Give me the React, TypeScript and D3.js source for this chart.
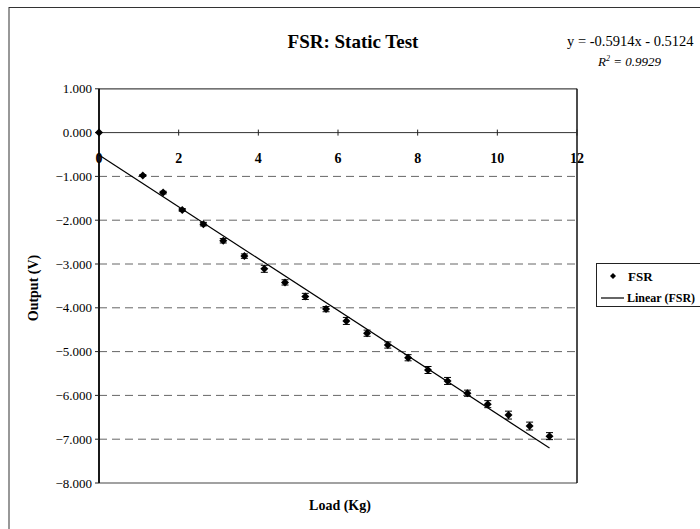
import React from 'react';
import * as d3 from 'd3';

// load (kg) and sensor output (V)
const loads = [0, 1.1, 1.61, 2.09, 2.62, 3.12, 3.65, 4.15, 4.67, 5.18, 5.7, 6.21, 6.73, 7.25, 7.76, 8.26, 8.75, 9.25, 9.76, 10.28, 10.81, 11.31];
const outputs = [0, -0.98, -1.37, -1.765, -2.09, -2.47, -2.82, -3.11, -3.42, -3.74, -4.03, -4.3, -4.58, -4.85, -5.14, -5.42, -5.67, -5.95, -6.2, -6.45, -6.7, -6.93];
const errors = [0, 0.02, 0.03, 0.03, 0.04, 0.05, 0.05, 0.08, 0.06, 0.07, 0.06, 0.08, 0.07, 0.07, 0.07, 0.08, 0.08, 0.07, 0.08, 0.09, 0.09, 0.08];

const xTicks = [0, 2, 4, 6, 8, 10, 12];
const yTicks = [1, 0, -1, -2, -3, -4, -5, -6, -7, -8];

const slope = -0.5914;
const intercept = -0.5124;

const font = '"Liberation Serif", "Times New Roman", serif';

const App = () => {
    const x = d3.scaleLinear().domain([0, 12]).range([99, 577]);
    const y = d3.scaleLinear().domain([-8, 1]).range([483, 88.8]);

    const fmt = d3.format('.3f');
    // square turned 45deg, closer to the blobby Excel diamond than symbolDiamond
    const marker = d3.symbol().type(d3.symbolSquare).size(32);
    const smallMarker = d3.symbol().type(d3.symbolSquare).size(18);

    const xMax = d3.max(loads) as number;
    const trend = d3.line<number>()
        .x(d => x(d))
        .y(d => y(slope * d + intercept));

    const points = loads.map((l, i) => ({ l, v: outputs[i], e: errors[i] }));

    return (
        <div style={{ position: 'absolute', left: 0, top: 0 }}>
            <svg width={700} height={529} style={{ display: 'block', background: '#fff' }}>
                {/* chart frame */}
                <rect x={9} y={7.5} width={720} height={540} fill="none" stroke="#333" strokeWidth={1} />

                <text x={353} y={48} textAnchor="middle" fontFamily={font} fontWeight="bold" fontSize={19}>
                    FSR: Static Test
                </text>
                <text x={567} y={46} fontFamily={font} fontSize={14.5}>y = -0.5914x - 0.5124</text>
                <text x={598} y={66} fontFamily={font} fontSize={13} fontStyle="italic">
                    R<tspan dy={-5} fontSize={8}>2</tspan><tspan dy={5}> = 0.9929</tspan>
                </text>

                {/* gridlines */}
                {yTicks.filter(t => t !== 0 && t !== 1 && t !== -8).map(t => (
                    <line key={t} x1={x(0)} x2={x(12)} y1={y(t)} y2={y(t)}
                        stroke="#666" strokeWidth={1} strokeDasharray="8,5" />
                ))}

                {/* plot area border */}
                <line x1={x(0)} x2={x(12)} y1={y(1)} y2={y(1)} stroke="#444" strokeWidth={1.2} />
                <line x1={x(0)} x2={x(12)} y1={y(-8)} y2={y(-8)} stroke="#444" strokeWidth={1.2} />
                <line x1={x(12)} x2={x(12)} y1={y(1)} y2={y(-8)} stroke="#111" strokeWidth={1.5} />
                <line x1={x(0)} x2={x(0)} y1={y(1)} y2={y(-8)} stroke="#000" strokeWidth={1.8} />

                {/* x axis at y = 0 */}
                <line x1={x(0)} x2={x(12)} y1={y(0)} y2={y(0)} stroke="#333" strokeWidth={1} />
                {xTicks.map(t => (
                    <g key={t}>
                        <line x1={x(t)} x2={x(t)} y1={y(0) - 3} y2={y(0) + 3} stroke="#222" />
                        <text x={x(t)} y={y(0) + 30} textAnchor="middle" fontFamily={font}
                            fontWeight="bold" fontSize={14}>{t}</text>
                    </g>
                ))}

                {/* y axis */}
                {yTicks.map(t => (
                    <g key={t}>
                        <line x1={x(0) - 4} x2={x(0)} y1={y(t)} y2={y(t)} stroke="#222" />
                        <text x={92} y={y(t) + 4.5} textAnchor="end" fontFamily={font} fontSize={13}>
                            {fmt(t)}
                        </text>
                    </g>
                ))}

                {/* trendline */}
                <path d={trend([0, xMax]) as string} fill="none" stroke="#000" strokeWidth={1.2} />

                {/* points with error bars */}
                {points.map((p, i) => (
                    <g key={i}>
                        {p.e > 0 && (
                            <g stroke="#000" strokeWidth={1}>
                                <line x1={x(p.l)} x2={x(p.l)} y1={y(p.v + p.e)} y2={y(p.v - p.e)} />
                                <line x1={x(p.l) - 3.5} x2={x(p.l) + 3.5} y1={y(p.v + p.e)} y2={y(p.v + p.e)} />
                                <line x1={x(p.l) - 3.5} x2={x(p.l) + 3.5} y1={y(p.v - p.e)} y2={y(p.v - p.e)} />
                            </g>
                        )}
                        <path d={marker() as string} transform={`translate(${x(p.l)},${y(p.v)}) rotate(45)`} fill="#000" />
                    </g>
                ))}

                {/* axis titles */}
                <text x={340} y={510} textAnchor="middle" fontFamily={font} fontWeight="bold" fontSize={14}>
                    Load (Kg)
                </text>
                <text transform="translate(38,288) rotate(-90)" textAnchor="middle" fontFamily={font}
                    fontWeight="bold" fontSize={14}>
                    Output (V)
                </text>

                {/* legend */}
                <rect x={596.5} y={263.5} width={120} height={43} fill="#fff" stroke="#222" />
                <path d={smallMarker() as string} transform="translate(613,276) rotate(45)" fill="#000" />
                <text x={628} y={281} fontFamily={font} fontWeight="bold" fontSize={13}>FSR</text>
                <line x1={601} x2={624} y1={298} y2={298} stroke="#000" strokeWidth={1.2} />
                <text x={627} y={302} fontFamily={font} fontWeight="bold" fontSize={12}>Linear (FSR)</text>
            </svg>
        </div>
    );
};

export default App;
